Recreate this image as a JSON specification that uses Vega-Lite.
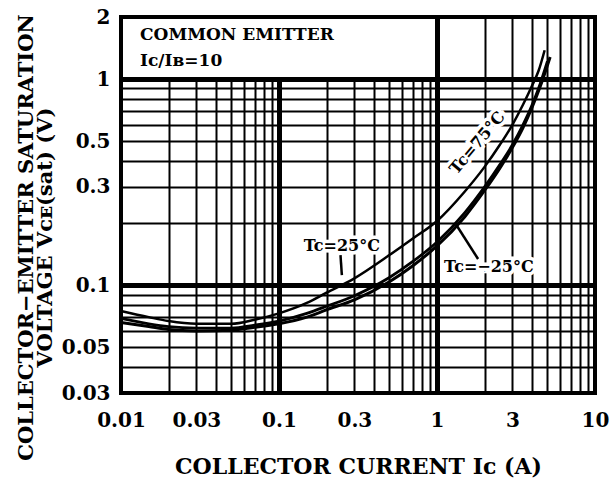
{
  "$schema": "https://vega.github.io/schema/vega-lite/v6.json",
  "width": 474,
  "height": 376,
  "autosize": {"type": "none"},
  "padding": {"left": 121, "top": 17, "right": 21, "bottom": 96},
  "background": "white",
  "config": {
    "view": {"stroke": "black", "strokeWidth": 4},
    "font": "DejaVu Serif",
    "axis": {
      "domain": false,
      "ticks": false,
      "labelFont": "DejaVu Serif",
      "labelFontWeight": "bold",
      "labelFontSize": 20,
      "labelColor": "black",
      "titleFont": "DejaVu Serif",
      "titleFontWeight": "bold",
      "titleFontSize": 21,
      "titleColor": "black",
      "gridColor": "black",
      "gridOpacity": 1,
      "labelOverlap": false,
      "labelBound": false,
      "labelFlush": false
    }
  },
  "datasets": {
    "box": [{"ic": 0.01, "ic2": 1, "v": 1, "v2": 2}],
    "curves": [
      {"tc": "75", "ic": 0.01, "v": 0.075}, {"tc": "75", "ic": 0.015, "v": 0.07}, {"tc": "75", "ic": 0.02, "v": 0.067},
      {"tc": "75", "ic": 0.03, "v": 0.065}, {"tc": "75", "ic": 0.05, "v": 0.065}, {"tc": "75", "ic": 0.07, "v": 0.068},
      {"tc": "75", "ic": 0.1, "v": 0.073}, {"tc": "75", "ic": 0.15, "v": 0.082}, {"tc": "75", "ic": 0.2, "v": 0.092},
      {"tc": "75", "ic": 0.3, "v": 0.108}, {"tc": "75", "ic": 0.5, "v": 0.14}, {"tc": "75", "ic": 0.7, "v": 0.168},
      {"tc": "75", "ic": 1, "v": 0.205}, {"tc": "75", "ic": 1.5, "v": 0.285}, {"tc": "75", "ic": 2, "v": 0.375},
      {"tc": "75", "ic": 2.5, "v": 0.48}, {"tc": "75", "ic": 3, "v": 0.6}, {"tc": "75", "ic": 3.5, "v": 0.75},
      {"tc": "75", "ic": 4, "v": 0.93}, {"tc": "75", "ic": 4.4, "v": 1.1}, {"tc": "75", "ic": 4.8, "v": 1.38},
      {"tc": "25", "ic": 0.01, "v": 0.069}, {"tc": "25", "ic": 0.015, "v": 0.065}, {"tc": "25", "ic": 0.02, "v": 0.063},
      {"tc": "25", "ic": 0.03, "v": 0.062}, {"tc": "25", "ic": 0.05, "v": 0.062}, {"tc": "25", "ic": 0.07, "v": 0.064},
      {"tc": "25", "ic": 0.1, "v": 0.067}, {"tc": "25", "ic": 0.15, "v": 0.073}, {"tc": "25", "ic": 0.2, "v": 0.079},
      {"tc": "25", "ic": 0.3, "v": 0.089}, {"tc": "25", "ic": 0.5, "v": 0.109}, {"tc": "25", "ic": 0.7, "v": 0.13},
      {"tc": "25", "ic": 1, "v": 0.162}, {"tc": "25", "ic": 1.5, "v": 0.225}, {"tc": "25", "ic": 2, "v": 0.3},
      {"tc": "25", "ic": 2.5, "v": 0.385}, {"tc": "25", "ic": 3, "v": 0.48}, {"tc": "25", "ic": 3.5, "v": 0.6},
      {"tc": "25", "ic": 4, "v": 0.75}, {"tc": "25", "ic": 4.5, "v": 0.95}, {"tc": "25", "ic": 5, "v": 1.22},
      {"tc": "-25", "ic": 0.01, "v": 0.066}, {"tc": "-25", "ic": 0.015, "v": 0.063}, {"tc": "-25", "ic": 0.02, "v": 0.061},
      {"tc": "-25", "ic": 0.03, "v": 0.06}, {"tc": "-25", "ic": 0.05, "v": 0.0605}, {"tc": "-25", "ic": 0.07, "v": 0.0625},
      {"tc": "-25", "ic": 0.1, "v": 0.065}, {"tc": "-25", "ic": 0.15, "v": 0.07}, {"tc": "-25", "ic": 0.2, "v": 0.076},
      {"tc": "-25", "ic": 0.3, "v": 0.085}, {"tc": "-25", "ic": 0.5, "v": 0.104}, {"tc": "-25", "ic": 0.7, "v": 0.124},
      {"tc": "-25", "ic": 1, "v": 0.155}, {"tc": "-25", "ic": 1.5, "v": 0.215}, {"tc": "-25", "ic": 2, "v": 0.288},
      {"tc": "-25", "ic": 2.5, "v": 0.37}, {"tc": "-25", "ic": 3, "v": 0.465}, {"tc": "-25", "ic": 3.5, "v": 0.58},
      {"tc": "-25", "ic": 4, "v": 0.73}, {"tc": "-25", "ic": 4.5, "v": 0.92}, {"tc": "-25", "ic": 5.2, "v": 1.28}
    ],
    "leaders": [
      {"ic": 0.245, "v": 0.14, "ic2": 0.25, "v2": 0.112},
      {"ic": 1.82, "v": 0.134, "ic2": 1.32, "v2": 0.197}
    ],
    "curveLabels": [
      {"t": "Tc=25°C", "ic": 0.25, "v": 0.155},
      {"t": "Tc=−25°C", "ic": 2.13, "v": 0.122}
    ],
    "slantLabels": [
      {"t": "Tc=75°C", "ic": 1.8, "v": 0.49}
    ],
    "boxText": [
      {"t": "COMMON  EMITTER", "ic": 0.0132, "v": 1.64},
      {"t": "Iᴄ/Iʙ=10", "ic": 0.0132, "v": 1.22}
    ]
  },
  "layer": [
    {
      "data": {"name": "box"},
      "mark": {"type": "rect", "fill": "white", "stroke": "black", "strokeWidth": 4},
      "encoding": {
        "x": {
          "field": "ic", "type": "quantitative",
          "scale": {"type": "log", "domain": [0.01, 10], "nice": false},
          "axis": {
            "values": [0.01, 0.02, 0.03, 0.04, 0.05, 0.06, 0.07, 0.08, 0.09, 0.1, 0.2, 0.3, 0.4, 0.5, 0.6, 0.7, 0.8, 0.9, 1, 2, 3, 4, 5, 6, 7, 8, 9, 10],
            "format": "~g",
            "labelExpr": "indexof([0.01, 0.03, 0.1, 0.3, 1, 3, 10], datum.value) >= 0 ? datum.label : ''",
            "grid": true,
            "gridWidth": {"condition": {"test": "datum.value == 0.1 || datum.value == 1", "value": 5}, "value": 2},
            "labelPadding": 17,
            "title": "COLLECTOR  CURRENT  Iᴄ  (A)",
            "titleFontSize": 22,
            "titlePadding": 26
          }
        },
        "x2": {"field": "ic2"},
        "y": {
          "field": "v", "type": "quantitative",
          "scale": {"type": "log", "domain": [0.03, 2], "nice": false},
          "axis": {
            "values": [0.03, 0.04, 0.05, 0.06, 0.07, 0.08, 0.09, 0.1, 0.2, 0.3, 0.4, 0.5, 0.6, 0.7, 0.8, 0.9, 1, 2],
            "format": "~g",
            "labelExpr": "indexof([0.03, 0.05, 0.1, 0.3, 0.5, 1, 2], datum.value) >= 0 ? datum.label : ''",
            "grid": true,
            "gridWidth": {"condition": {"test": "datum.value == 0.1 || datum.value == 1", "value": 5}, "value": 2},
            "labelPadding": 11,
            "title": ["COLLECTOR−EMITTER  SATURATION", "          VOLTAGE  Vᴄᴇ(sat)  (V)"],
            "titleX": -89,
            "titleY": 220,
            "titleBaseline": "alphabetic",
            "titleLineHeight": 19
          }
        },
        "y2": {"field": "v2"}
      }
    },
    {
      "data": {"name": "curves"},
      "mark": {"type": "line", "interpolate": "monotone", "color": "black"},
      "encoding": {
        "x": {"field": "ic", "type": "quantitative"},
        "y": {"field": "v", "type": "quantitative"},
        "detail": {"field": "tc"},
        "strokeWidth": {"field": "tc", "type": "ordinal", "scale": {"domain": ["75", "25", "-25"], "range": [2.5, 3, 6]}, "legend": null}
      }
    },
    {
      "data": {"name": "leaders"},
      "mark": {"type": "rule", "color": "black", "strokeWidth": 2.5},
      "encoding": {
        "x": {"field": "ic", "type": "quantitative"},
        "y": {"field": "v", "type": "quantitative"},
        "x2": {"field": "ic2"},
        "y2": {"field": "v2"}
      }
    },
    {
      "data": {"name": "curveLabels"},
      "mark": {"type": "text", "font": "DejaVu Serif", "fontWeight": "bold", "fontSize": 16, "stroke": "white", "strokeWidth": 7, "fill": "white"},
      "encoding": {
        "x": {"field": "ic", "type": "quantitative"},
        "y": {"field": "v", "type": "quantitative"},
        "text": {"field": "t"}
      }
    },
    {
      "data": {"name": "curveLabels"},
      "mark": {"type": "text", "font": "DejaVu Serif", "fontWeight": "bold", "fontSize": 16, "fill": "black"},
      "encoding": {
        "x": {"field": "ic", "type": "quantitative"},
        "y": {"field": "v", "type": "quantitative"},
        "text": {"field": "t"}
      }
    },
    {
      "data": {"name": "slantLabels"},
      "mark": {"type": "text", "font": "DejaVu Serif", "fontWeight": "bold", "fontSize": 16, "angle": -50, "stroke": "white", "strokeWidth": 7, "fill": "white"},
      "encoding": {
        "x": {"field": "ic", "type": "quantitative"},
        "y": {"field": "v", "type": "quantitative"},
        "text": {"field": "t"}
      }
    },
    {
      "data": {"name": "slantLabels"},
      "mark": {"type": "text", "font": "DejaVu Serif", "fontWeight": "bold", "fontSize": 16, "angle": -50, "fill": "black"},
      "encoding": {
        "x": {"field": "ic", "type": "quantitative"},
        "y": {"field": "v", "type": "quantitative"},
        "text": {"field": "t"}
      }
    },
    {
      "data": {"name": "boxText"},
      "mark": {"type": "text", "font": "DejaVu Serif", "fontWeight": "bold", "fontSize": 17, "align": "left", "fill": "black"},
      "encoding": {
        "x": {"field": "ic", "type": "quantitative"},
        "y": {"field": "v", "type": "quantitative"},
        "text": {"field": "t"}
      }
    }
  ]
}
